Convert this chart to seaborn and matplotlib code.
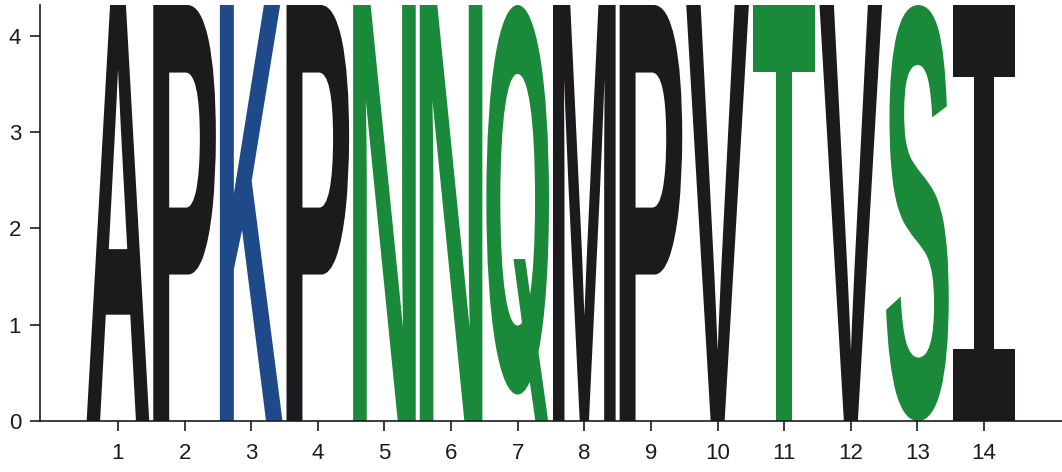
import numpy as np
import matplotlib
matplotlib.use("Agg")
import matplotlib.pyplot as plt
import seaborn as sns
from matplotlib.textpath import TextPath
from matplotlib.patches import PathPatch
from matplotlib.font_manager import FontProperties
from matplotlib.transforms import Affine2D

# ---------- data ----------
positions = [1, 2, 3, 4, 5, 6, 7, 8, 9, 10, 11, 12, 13, 14]
letters = ["A", "P", "K", "P", "N", "N", "Q", "M", "P", "V", "T", "V", "S", "I"]
heights = [4.32, 4.32, 4.32, 4.32, 4.32, 4.32, 4.32,
           4.32, 4.32, 4.32, 4.32, 4.32, 4.32, 4.32]

# letter colours (hydrophobic / basic / polar)
colors = {
    "A": "#1c1a1d", "P": "#1c1a1d", "M": "#1c1a1d", "V": "#1c1a1d", "I": "#1c1a1d",
    "K": "#1f4a8a",
    "N": "#1a8a3a", "Q": "#1a8a3a", "T": "#1a8a3a", "S": "#1a8a3a",
}

sns.set_style("ticks")
plt.rcParams["font.family"] = ["Liberation Sans", "DejaVu Sans"]

fig = plt.figure(figsize=(10.62, 4.72), dpi=100)
ax = fig.add_axes([40 / 1062, 51 / 472, 1022 / 1062, 416 / 472])

fp_main = FontProperties(family="Liberation Sans", weight="bold")
fp_q = FontProperties(family="Inter", weight="bold")
fp_i = FontProperties(family="DejaVu Sans Mono", weight="bold")
letter_width = 0.94

for pos, ch, h in zip(positions, letters, heights):
    fp = fp_main
    if ch == "Q":
        fp = fp_q
    elif ch == "I":
        fp = fp_i
    tp = TextPath((0, 0), ch, size=1, prop=fp)
    bb = tp.get_extents()
    tr = (Affine2D()
          .translate(-bb.x0, -bb.y0)
          .scale(letter_width / bb.width, h / bb.height)
          .translate(pos - letter_width / 2, 0))
    ax.add_patch(PathPatch(tr.transform_path(tp), fc=colors[ch], ec="none", lw=0))

ax.set_xlim(-0.17, 15.17)
ax.set_ylim(0, 4.32)
ax.set_xticks(positions)
ax.set_yticks([0, 1, 2, 3, 4])
ax.tick_params(axis="both", direction="out", length=7.5, width=1.2,
               labelsize=16, color="#1c1a1d", labelcolor="#1c1a1d")
ax.tick_params(axis="x", pad=8)
ax.tick_params(axis="y", pad=6)
for s in ["left", "bottom"]:
    ax.spines[s].set_linewidth(1.2)
    ax.spines[s].set_color("#1c1a1d")
sns.despine(ax=ax)

fig.savefig("out.png", dpi=100)
